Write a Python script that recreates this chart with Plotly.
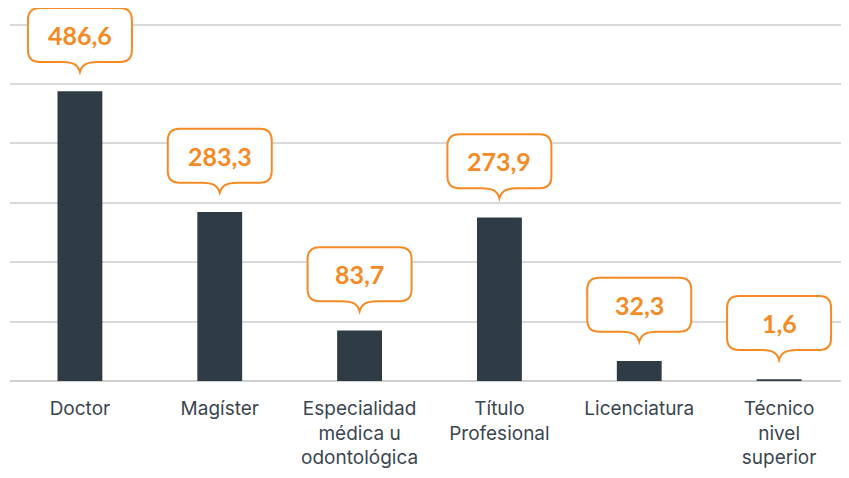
import plotly.graph_objects as go

# Data
categories = ["Doctor", "Magíster", "Especialidad<br>médica u<br>odontológica",
              "Título<br>Profesional", "Licenciatura", "Técnico<br>nivel<br>superior"]
values = [486.6, 283.3, 83.7, 273.9, 32.3, 1.6]
labels = [f"{v:.1f}".replace(".", ",") for v in values]

BAR = "#2f3c46"
ORANGE = "#f58a25"

# callout bubble, in pixels relative to top of bar (y up)
bubble = ("M -52,42 L -52,72 Q -52,84 -40,84 L 40,84 Q 52,84 52,72 "
          "L 52,42 Q 52,30 40,30 L 18,30 C 6,30 2,27 0,20 "
          "C -2,27 -6,30 -18,30 L -40,30 Q -52,30 -52,42 Z")

fig = go.Figure()
fig.add_trace(go.Bar(x=categories, y=values, marker_color=BAR, width=0.31,
                     marker_line=dict(color=BAR, width=1.5), hoverinfo="skip"))

for cat, v, lab in zip(categories, values, labels):
    fig.add_shape(type="path", xref="x", yref="y", xsizemode="pixel",
                  ysizemode="pixel", xanchor=cat, yanchor=v, path=bubble,
                  line=dict(color=ORANGE, width=2), fillcolor="white",
                  layer="above")
    fig.add_annotation(x=cat, y=v, text=f"<b>{lab}</b>", showarrow=False,
                       yshift=57, font=dict(family="Lato", size=25, color=ORANGE))

# page body adds an 8px offset, so the figure is a little smaller
fig.update_layout(
    width=841, height=470,
    margin=dict(l=2, r=0, t=0, b=97),
    plot_bgcolor="white", paper_bgcolor="white",
    showlegend=False,
    bargap=0.68,
    xaxis=dict(showline=False, ticks="", automargin=False, ticklabelstandoff=14,
               tickfont=dict(family="Inter", size=19, color="#3b4650")),
    yaxis=dict(range=[0, 628], dtick=100, showticklabels=False, automargin=False,
               gridcolor="#d9d9d9", gridwidth=1.5, zeroline=True,
               zerolinecolor="#d0d0d0", zerolinewidth=1.5),
)

fig.write_html("out.html")
